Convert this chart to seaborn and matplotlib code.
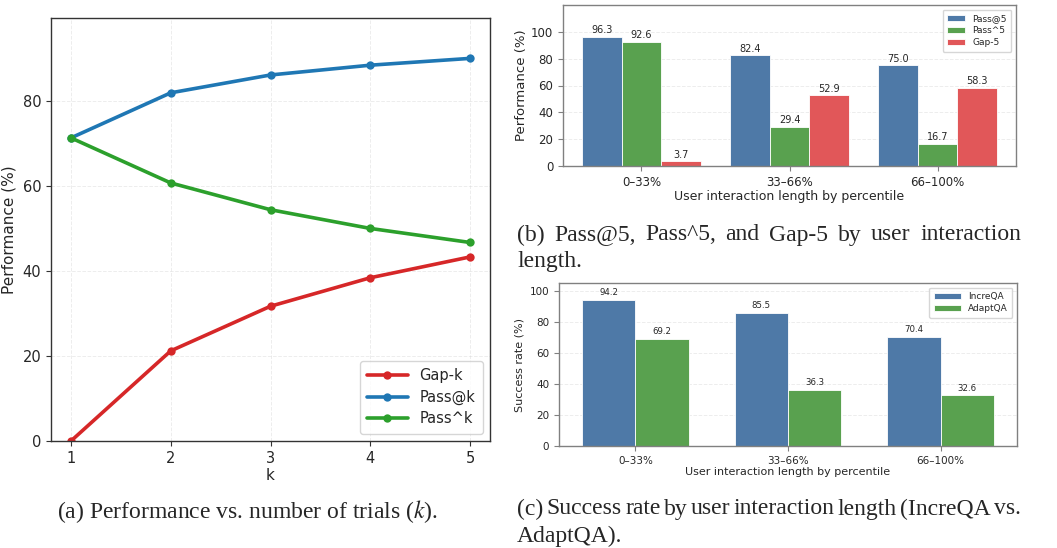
import numpy as np
import pandas as pd
import matplotlib
matplotlib.use("Agg")
import matplotlib.pyplot as plt
import seaborn as sns

# ---- data ----
k_values = [1, 2, 3, 4, 5]
pass_at_k = [71.3, 81.9, 86.1, 88.4, 90.0]
pass_hat_k = [71.3, 60.7, 54.4, 50.0, 46.7]
gap_k = [0.0, 21.2, 31.7, 38.4, 43.3]

bins = ["0–33%", "33–66%", "66–100%"]
pass5 = [96.3, 82.4, 75.0]
passhat5 = [92.6, 29.4, 16.7]
gap5 = [3.7, 52.9, 58.3]

increqa = [94.2, 85.5, 70.4]
adaptqa = [69.2, 36.3, 32.6]

sns.set_style("white")
plt.rcParams["font.family"] = ["DejaVu Sans"]
plt.rcParams["mathtext.fontset"] = "stix"

W, H = 1057, 548
fig = plt.figure(figsize=(W / 100, H / 100), dpi=100)


def box(left, top, right, bottom):
    return [left / W, (H - bottom) / H, (right - left) / W, (bottom - top) / H]


def style_spines(ax, color):
    for s in ax.spines.values():
        s.set_color(color)
        s.set_linewidth(1.0)
    ax.tick_params(axis="both", which="both", length=3.5, color=color,
                   left=True, bottom=True)


# ---- (a) line chart ----
ax1 = fig.add_axes(box(51, 18, 490, 441))
df_a = pd.DataFrame({
    "k": k_values * 3,
    "val": gap_k + pass_at_k + pass_hat_k,
    "metric": ["Gap-k"] * 5 + ["Pass@k"] * 5 + ["Pass^k"] * 5,
})
sns.lineplot(data=df_a, x="k", y="val", hue="metric", ax=ax1,
             palette=["#d62728", "#1f77b4", "#2ca02c"],
             marker="o", markersize=6, markeredgewidth=0, linewidth=2.6)
ax1.set_xlim(0.8, 5.2)
ax1.set_ylim(0, 99.5)
ax1.set_xticks(k_values)
ax1.set_yticks([0, 20, 40, 60, 80])
ax1.grid(True, linestyle="--", linewidth=0.7, alpha=0.35)
ax1.set_xlabel("k", fontsize=11, labelpad=2)
ax1.set_ylabel("Performance (%)", fontsize=11)
ax1.tick_params(labelsize=10.5)
style_spines(ax1, "#333333")
ax1.legend(loc="lower right", fontsize=10.5, frameon=True, handlelength=2.8,
           borderpad=0.5, labelspacing=0.45)

# ---- (b) grouped bars ----
ax2 = fig.add_axes(box(563, 5, 1016, 166))
df_b = pd.DataFrame({
    "bin": bins * 3,
    "val": pass5 + passhat5 + gap5,
    "metric": ["Pass@5"] * 3 + ["Pass^5"] * 3 + ["Gap-5"] * 3,
})
sns.barplot(data=df_b, x="bin", y="val", hue="metric", ax=ax2,
            palette=["#4e79a7", "#59a14f", "#e15759"], width=0.8,
            edgecolor="white", linewidth=0.6, saturation=1)
for c in ax2.containers:
    ax2.bar_label(c, fmt="%.1f", padding=1, fontsize=7)
ax2.set_ylim(0, 120)
ax2.set_yticks([0, 20, 40, 60, 80, 100])
ax2.set_xlim(-0.53, 2.53)
ax2.yaxis.grid(True, linestyle="--", linewidth=0.7, alpha=0.35)
ax2.set_axisbelow(True)
ax2.set_xlabel("User interaction length by percentile", fontsize=9, labelpad=1)
ax2.set_ylabel("Performance (%)", fontsize=9.5, labelpad=2)
ax2.tick_params(labelsize=8.5)
style_spines(ax2, "#808080")
ax2.legend(loc="upper right", fontsize=6.5, frameon=True, handlelength=2.0,
           borderpad=0.5, labelspacing=0.35)

# ---- (c) grouped bars ----
ax3 = fig.add_axes(box(559, 283, 1017, 446))
df_c = pd.DataFrame({
    "bin": bins * 2,
    "val": increqa + adaptqa,
    "method": ["IncreQA"] * 3 + ["AdaptQA"] * 3,
})
sns.barplot(data=df_c, x="bin", y="val", hue="method", ax=ax3,
            palette=["#4e79a7", "#59a14f"], width=0.7,
            edgecolor="white", linewidth=0.6, saturation=1)
for c in ax3.containers:
    ax3.bar_label(c, fmt="%.1f", padding=2, fontsize=6.2)
ax3.set_ylim(0, 105)
ax3.set_yticks([0, 20, 40, 60, 80, 100])
ax3.set_xlim(-0.5, 2.5)
ax3.yaxis.grid(True, linestyle="--", linewidth=0.7, alpha=0.35)
ax3.set_axisbelow(True)
ax3.set_xlabel("User interaction length by percentile", fontsize=8, labelpad=1)
ax3.set_ylabel("Success rate (%)", fontsize=8)
ax3.tick_params(labelsize=7.5)
style_spines(ax3, "#808080")
ax3.legend(loc="upper right", fontsize=6.5, frameon=True, handlelength=3.0,
           borderpad=0.5, labelspacing=0.35)

# ---- captions ----
serif = "Liberation Serif"
cap_size = 17
fig.text(247 / W, 1 - 512 / H, "(a) Performance vs. number of trials ($k$).",
         ha="center", va="center", fontsize=cap_size, family=serif)

renderer = fig.canvas.get_renderer()


def justified(line, x0, x1, yc):
    words = line.split(" ")
    texts = [fig.text(0, 1 - yc / H, w, ha="left", va="center",
                      fontsize=cap_size, family=serif) for w in words]
    widths = [t.get_window_extent(renderer).width for t in texts]
    gap = (x1 - x0 - sum(widths)) / (len(words) - 1)
    x = x0
    for t, w in zip(texts, widths):
        t.set_x(x / W)
        x += w + gap


justified("(b) Pass@5, Pass^5, and Gap-5 by user interaction", 517, 1021, 235)
fig.text(517 / W, 1 - 262 / H, "length.", ha="left", va="center",
         fontsize=cap_size, family=serif)
justified("(c) Success rate by user interaction length (IncreQA vs.", 517, 1021, 509)
fig.text(517 / W, 1 - 536 / H, "AdaptQA).", ha="left", va="center",
         fontsize=cap_size, family=serif)

fig.savefig("out.png", dpi=100)
